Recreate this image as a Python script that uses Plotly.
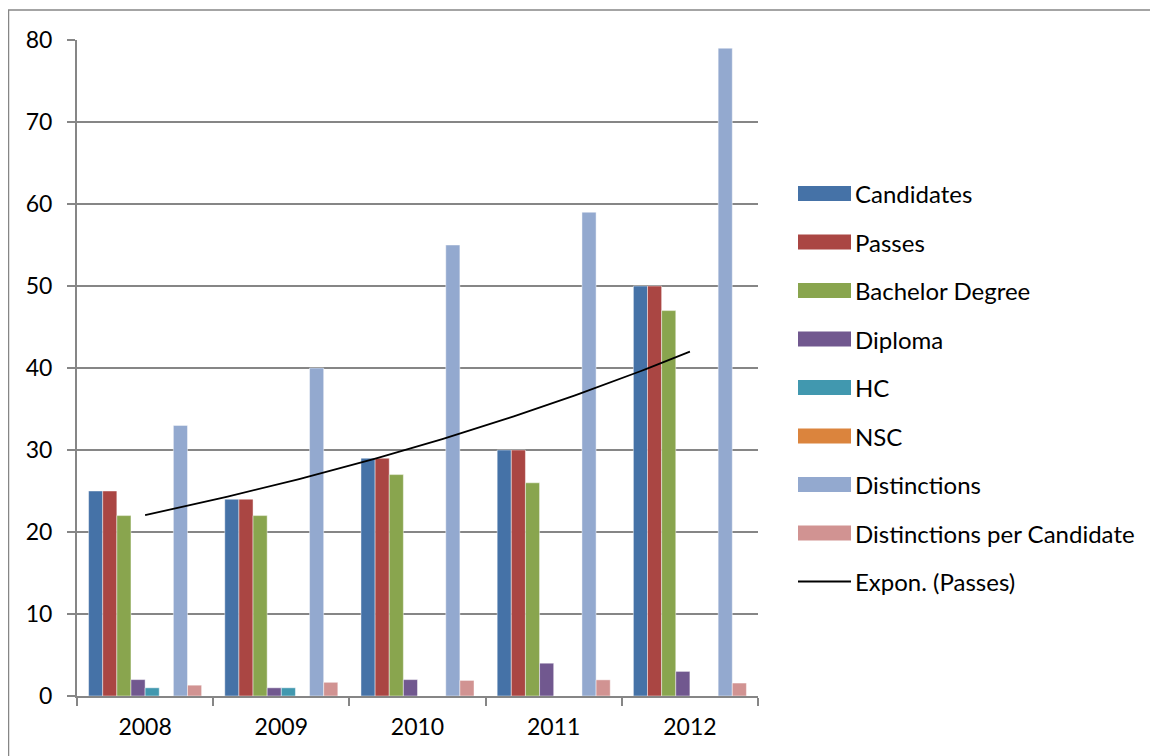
import numpy as np
import plotly.graph_objects as go

years = ["2008", "2009", "2010", "2011", "2012"]
series_names = ["Candidates", "Passes", "Bachelor Degree", "Diploma", "HC", "NSC",
                "Distinctions", "Distinctions per Candidate"]
candidates = [25, 24, 29, 30, 50]
passes = [25, 24, 29, 30, 50]
bachelor = [22, 22, 27, 26, 47]
diploma = [2, 1, 2, 4, 3]
hc = [1, 1, 0, 0, 0]
nsc = [0, 0, 0, 0, 0]
distinctions = [33, 40, 55, 59, 79]
dist_per_cand = [1.32, 1.67, 1.9, 1.97, 1.58]
trend_name = "Expon. (Passes)"
y_ticks = [0, 10, 20, 30, 40, 50, 60, 70, 80]

colors = ["#4572A7", "#AA4643", "#89A54E", "#71588F", "#4198AF", "#DB843D",
          "#93A9CF", "#D19392"]
values = [candidates, passes, bachelor, diploma, hc, nsc, distinctions, dist_per_cand]

FONT = "Lato"
OFF = 8  # default page margin of the html body
W, H = 1158 - OFF, 756 - OFF
# plot area in page pixels
L, R, T, B = 77, 758, 40, 696
Lf, Rf, Tf, Bf = L - OFF, R - OFF, T - OFF, B - OFF

xpos = list(range(len(years)))
fig = go.Figure()
for name, vals, col in zip(series_names, values, colors):
    fig.add_trace(go.Bar(x=xpos, y=vals, name=name, marker_color=col,
                         marker_line=dict(color="rgba(255,255,255,0.45)", width=1),
                         showlegend=False))

# exponential trendline fitted to Passes
xi = np.arange(1, len(passes) + 1)
b, a = np.polyfit(xi, np.log(passes), 1)
xs = np.linspace(1, len(passes), 100)
ys = np.exp(a + b * xs)
fig.add_trace(go.Scatter(x=xs - 1, y=ys, mode="lines", name=trend_name,
                         line=dict(color="black", width=1.8), showlegend=False))

def px_x(p):  # page pixel -> paper
    return (p - L) / (R - L)

def px_y(p):
    return (B - p) / (B - T)

shapes = []
annotations = []
# outer frame
shapes.append(dict(type="rect", xref="paper", yref="paper",
                   x0=px_x(8.5), x1=px_x(1170), y0=px_y(770), y1=px_y(10),
                   line=dict(color="#868686", width=1.5), fillcolor="rgba(0,0,0,0)",
                   layer="below"))
# custom legend
leg_names = series_names + [trend_name]
for i, name in enumerate(leg_names):
    cy = 193.5 + i * 48.5
    if i < len(series_names):
        shapes.append(dict(type="rect", xref="paper", yref="paper",
                           x0=px_x(798), x1=px_x(851), y0=px_y(cy + 7.5), y1=px_y(cy - 7.5),
                           fillcolor=colors[i], line=dict(width=0)))
    else:
        shapes.append(dict(type="line", xref="paper", yref="paper",
                           x0=px_x(798), x1=px_x(851), y0=px_y(cy), y1=px_y(cy),
                           line=dict(color="black", width=1.8)))
    annotations.append(dict(xref="paper", yref="paper", x=px_x(853), y=px_y(cy),
                            xanchor="left", yanchor="middle", text=name, showarrow=False,
                            font=dict(family=FONT, size=24, color="black")))

fig.update_layout(
    width=W, height=H,
    margin=dict(l=Lf, r=W - Rf, t=Tf, b=H - Bf),
    paper_bgcolor="white", plot_bgcolor="white",
    barmode="group", bargap=0.17, bargroupgap=0,
    shapes=shapes, annotations=annotations,
    font=dict(family=FONT, size=23, color="black"),
    xaxis=dict(range=[-0.5, len(years) - 0.5], tickvals=xpos, ticktext=years,
               ticks="", showgrid=False, zeroline=False,
               showline=True, linecolor="#868686", linewidth=2,
               ticklabelstandoff=9,
               minor=dict(tickvals=[i - 0.5 for i in range(len(years) + 1)],
                          ticks="outside", ticklen=8, tickcolor="#868686", tickwidth=2,
                          showgrid=False),
               tickfont=dict(family=FONT, size=23)),
    yaxis=dict(range=[0, 80], tickvals=y_ticks, showgrid=True, gridcolor="#868686",
               gridwidth=1.5, zeroline=False, showline=True, linecolor="#868686",
               linewidth=2, ticks="outside", ticklen=8, tickcolor="#868686", tickwidth=2,
               ticklabelstandoff=10, tickfont=dict(family=FONT, size=23)),
)

fig.write_html("out.html")
